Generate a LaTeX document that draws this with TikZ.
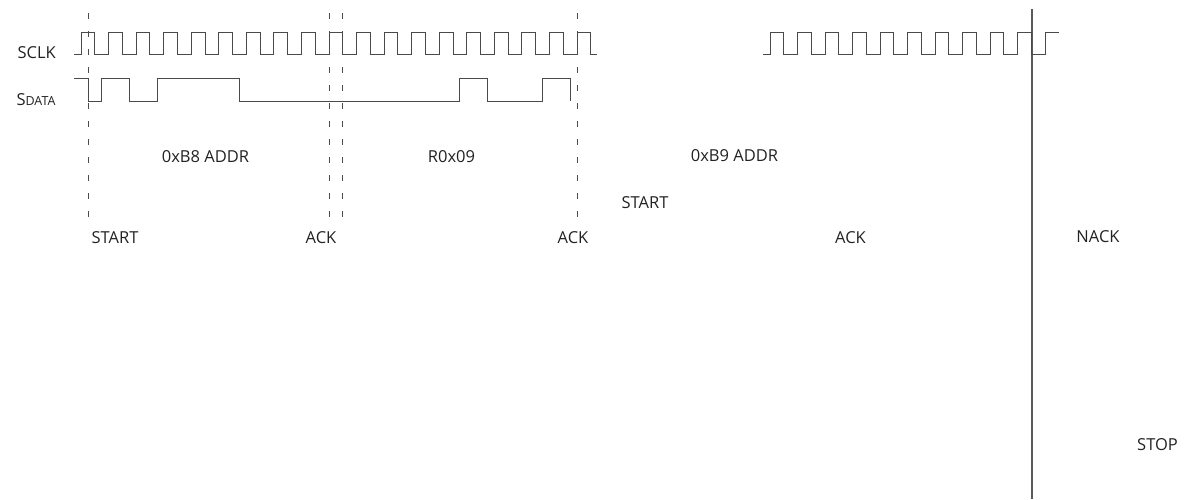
\documentclass[tikz,border=0pt]{standalone}
\usepackage{fontspec}
\setmainfont{Open Sans}
\definecolor{ink}{HTML}{222222}
\definecolor{wavec}{HTML}{4A4A4A}
\definecolor{markc}{HTML}{5A5A5A}
\tikzset{
  lbl/.style={inner sep=0pt, anchor=center, text=ink, font=\fontsize{16.5}{18}\selectfont},
  wave/.style={draw=wavec, line width=1pt, line join=miter},
  marker/.style={draw=wavec, line width=0.9pt, dash pattern=on 6pt off 12pt, dash phase=-3pt},
  stopline/.style={draw=markc, line width=1.4pt},
}
\begin{document}
\begin{tikzpicture}[x=1pt, y=-1pt]
\useasboundingbox (0,0) rectangle (1192,499);
% labels
\node[lbl] (sclk) at (36.7,52.5) {SCLK};
\node[lbl] (sdata) at (36,99.5) {{\fontsize{16.5}{18}\selectfont S}{\fontsize{12.5}{14}\selectfont DATA}};
\node[lbl] (addr1) at (205.5,157) {0xB8 ADDR};
\node[lbl] (reg) at (451.5,157) {R0x09};
\node[lbl] (addr2) at (734.5,156) {0xB9 ADDR};
\node[lbl] (start2) at (645,203) {START};
\node[lbl] (start1) at (115,238) {START};
\node[lbl] (ack1) at (321,238) {ACK};
\node[lbl] (ack2) at (573,238) {ACK};
\node[lbl] (ack3) at (850.5,238) {ACK};
\node[lbl] (nack) at (1098,237) {NACK};
\node[lbl] (stop) at (1157.5,445) {STOP};
% dashed markers
\foreach \x/\n in {88/a,329/b,342/c,577/d}{
  \coordinate (m\n top) at (\x,10);
  \coordinate (m\n bot) at (\x,217);
  \draw[marker] (m\n top) -- (m\n bot);
}
% stop line
\coordinate (stoptop) at (1032,9);
\coordinate (stopbot) at (1032,499);
\draw[stopline] (stoptop) -- (stopbot);
% SCLK group 1
\draw[wave] (74,54) foreach \k in {0,...,18} {
  -- ({81+27.56*\k},54) -- ({81+27.56*\k},32) -- ({94.8+27.56*\k},32) -- ({94.8+27.56*\k},54)
} -- (597,54);
% SCLK group 2
\draw[wave] (763,54) foreach \k in {0,...,9} {
  -- ({770+27.5*\k},54) -- ({770+27.5*\k},32) -- ({783.8+27.5*\k},32) -- ({783.8+27.5*\k},54)
} -- (1045,54) -- (1045,32) -- (1059,32);
% SDATA
\draw[wave] (74,78) -- (88,78) -- (88,101) -- (101,101) -- (101,78) -- (129,78) -- (129,101)
  -- (157,101) -- (157,78) -- (239,78) -- (239,101) -- (459,101) -- (459,78) -- (487,78)
  -- (487,101) -- (542,101) -- (542,78) -- (570,78) -- (570,101);
\end{tikzpicture}
\end{document}
